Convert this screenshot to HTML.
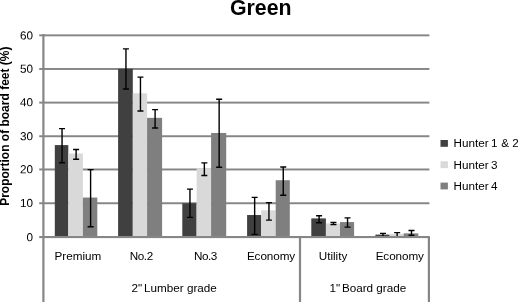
<!DOCTYPE html>
<html><head><meta charset="utf-8"><title>Green</title>
<style>
html,body{margin:0;padding:0;background:#fff;}
body{width:518px;height:302px;overflow:hidden;}
svg{display:block;}
text{font-family:"Liberation Sans",Arial,sans-serif;fill:#000;}
.t{font-size:11.7px;}
.b{font-size:12px;font-weight:bold;}
</style></head><body>
<svg width="518" height="302" viewBox="0 0 518 302">
<rect x="0" y="0" width="518" height="302" fill="#fff"/>
<rect x="39.2" y="202.27" width="390.20" height="1.95" fill="#868686"/>
<rect x="39.2" y="168.49" width="390.20" height="1.95" fill="#868686"/>
<rect x="39.2" y="135.26" width="390.20" height="1.95" fill="#868686"/>
<rect x="39.2" y="101.63" width="390.20" height="1.95" fill="#868686"/>
<rect x="39.2" y="68.00" width="390.20" height="1.95" fill="#868686"/>
<rect x="39.2" y="34.37" width="390.20" height="1.95" fill="#868686"/>
<rect x="54.80" y="145.09" width="13.50" height="91.81" fill="#404040"/>
<rect x="68.30" y="153.50" width="14.60" height="83.40" fill="#d9d9d9"/>
<rect x="82.90" y="197.55" width="14.40" height="39.35" fill="#7f7f7f"/>
<rect x="118.10" y="68.75" width="14.70" height="168.15" fill="#404040"/>
<rect x="132.80" y="93.30" width="14.30" height="143.60" fill="#d9d9d9"/>
<rect x="147.10" y="117.85" width="15.00" height="119.05" fill="#7f7f7f"/>
<rect x="182.30" y="203.27" width="14.30" height="33.63" fill="#404040"/>
<rect x="196.60" y="168.29" width="14.50" height="68.61" fill="#d9d9d9"/>
<rect x="211.10" y="132.98" width="15.10" height="103.92" fill="#7f7f7f"/>
<rect x="247.10" y="215.04" width="14.10" height="21.86" fill="#404040"/>
<rect x="261.20" y="210.33" width="14.50" height="26.57" fill="#d9d9d9"/>
<rect x="275.70" y="180.23" width="14.10" height="56.67" fill="#7f7f7f"/>
<rect x="311.30" y="218.40" width="14.60" height="18.50" fill="#404040"/>
<rect x="325.90" y="223.45" width="14.10" height="13.45" fill="#d9d9d9"/>
<rect x="340.00" y="222.10" width="14.10" height="14.80" fill="#7f7f7f"/>
<rect x="375.40" y="234.61" width="14.20" height="2.29" fill="#404040"/>
<rect x="389.60" y="233.87" width="14.10" height="3.03" fill="#d9d9d9"/>
<rect x="403.70" y="233.37" width="14.60" height="3.53" fill="#7f7f7f"/>
<path d="M62.05 128.61V162.75M59.05 128.61h6M59.05 162.75h6" stroke="#000" stroke-width="1.4" fill="none"/>
<path d="M76.10 149.46V159.21M73.10 149.46h6M73.10 159.21h6" stroke="#000" stroke-width="1.4" fill="none"/>
<path d="M90.60 169.64V226.81M87.60 169.64h6M87.60 226.81h6" stroke="#000" stroke-width="1.4" fill="none"/>
<path d="M125.95 48.91V88.93M122.95 48.91h6M122.95 88.93h6" stroke="#000" stroke-width="1.4" fill="none"/>
<path d="M140.45 77.16V110.96M137.45 77.16h6M137.45 110.96h6" stroke="#000" stroke-width="1.4" fill="none"/>
<path d="M155.10 109.61V127.94M152.10 109.61h6M152.10 127.94h6" stroke="#000" stroke-width="1.4" fill="none"/>
<path d="M189.95 189.15V217.39M186.95 189.15h6M186.95 217.39h6" stroke="#000" stroke-width="1.4" fill="none"/>
<path d="M204.35 162.91V175.53M201.35 162.91h6M201.35 175.53h6" stroke="#000" stroke-width="1.4" fill="none"/>
<path d="M219.15 99.19V167.29M216.15 99.19h6M216.15 167.29h6" stroke="#000" stroke-width="1.4" fill="none"/>
<path d="M254.65 197.38V234.38M251.65 197.38h6M251.65 234.38h6" stroke="#000" stroke-width="1.4" fill="none"/>
<path d="M268.95 202.60V220.09M265.95 202.60h6M265.95 220.09h6" stroke="#000" stroke-width="1.4" fill="none"/>
<path d="M283.25 166.95V195.20M280.25 166.95h6M280.25 195.20h6" stroke="#000" stroke-width="1.4" fill="none"/>
<path d="M319.10 215.71V222.78M316.10 215.71h6M316.10 222.78h6" stroke="#000" stroke-width="1.4" fill="none"/>
<path d="M333.45 222.44V224.63M330.45 222.44h6M330.45 224.63h6" stroke="#000" stroke-width="1.4" fill="none"/>
<path d="M347.55 217.90V227.15M344.55 217.90h6M344.55 227.15h6" stroke="#000" stroke-width="1.4" fill="none"/>
<path d="M383.00 233.37V236.90M380.00 233.37h6M380.00 236.90h6" stroke="#000" stroke-width="1.4" fill="none"/>
<path d="M397.15 232.60V236.90M394.15 232.60h6M394.15 236.90h6" stroke="#000" stroke-width="1.4" fill="none"/>
<path d="M411.50 230.51V235.22M408.50 230.51h6M408.50 235.22h6" stroke="#000" stroke-width="1.4" fill="none"/>
<rect x="39.2" y="236.00" width="390.70" height="2.1" fill="#868686"/>
<rect x="42.3" y="34.1" width="2.2" height="267.90" fill="#868686"/>
<rect x="298.9" y="236.90" width="2.2" height="65.10" fill="#868686"/>
<rect x="427.8" y="236.90" width="2.2" height="65.10" fill="#868686"/>
<text class="t" x="33" y="241.15" text-anchor="end" transform="rotate(0.03 33 241.15)">0</text>
<text class="t" x="33" y="207.12" text-anchor="end" transform="rotate(0.03 33 207.12)">10</text>
<text class="t" x="33" y="173.39" text-anchor="end" transform="rotate(0.03 33 173.39)">20</text>
<text class="t" x="33" y="140.16" text-anchor="end" transform="rotate(0.03 33 140.16)">30</text>
<text class="t" x="33" y="106.38" text-anchor="end" transform="rotate(0.03 33 106.38)">40</text>
<text class="t" x="33" y="72.80" text-anchor="end" transform="rotate(0.03 33 72.80)">50</text>
<text class="t" x="33" y="39.62" text-anchor="end" transform="rotate(0.03 33 39.62)">60</text>
<text x="260.8" y="14.7" text-anchor="middle" style="font-size:21.3px;font-weight:bold">Green</text>
<text class="b" transform="translate(8.9 126.2) rotate(-90)" text-anchor="middle">Proportion of board feet (%)</text>
<text class="t" x="77.90" y="259.5" text-anchor="middle" style="letter-spacing:0px">Premium</text>
<text class="t" x="141.25" y="259.5" text-anchor="middle" style="letter-spacing:-0.45px">No.2</text>
<text class="t" x="205.45" y="259.5" text-anchor="middle" style="letter-spacing:-0.45px">No.3</text>
<text class="t" x="271.00" y="259.5" text-anchor="middle" style="letter-spacing:-0.08px">Economy</text>
<text class="t" x="333.00" y="259.5" text-anchor="middle" style="letter-spacing:0px">Utility</text>
<text class="t" x="399.75" y="259.5" text-anchor="middle" style="letter-spacing:-0.08px">Economy</text>
<text class="t" x="131.5" y="292.2">2"<tspan dx="-1.3"> Lumber grade</tspan></text>
<text class="t" x="329.6" y="292.2">1"<tspan dx="-1.6"> Board grade</tspan></text>
<rect x="440.5" y="140.00" width="7.4" height="6.8" fill="#404040"/>
<text class="t" x="453.5" y="147.10">Hunter<tspan dx="-0.9"> 1</tspan><tspan dx="0.6"> &amp; 2</tspan></text>
<rect x="440.5" y="161.30" width="7.4" height="6.8" fill="#d9d9d9"/>
<text class="t" x="453.5" y="168.80">Hunter<tspan dx="-0.9"> 3</tspan></text>
<rect x="440.5" y="182.60" width="7.4" height="6.8" fill="#7f7f7f"/>
<text class="t" x="453.5" y="190.10">Hunter<tspan dx="-0.9"> 4</tspan></text>
</svg></body></html>
